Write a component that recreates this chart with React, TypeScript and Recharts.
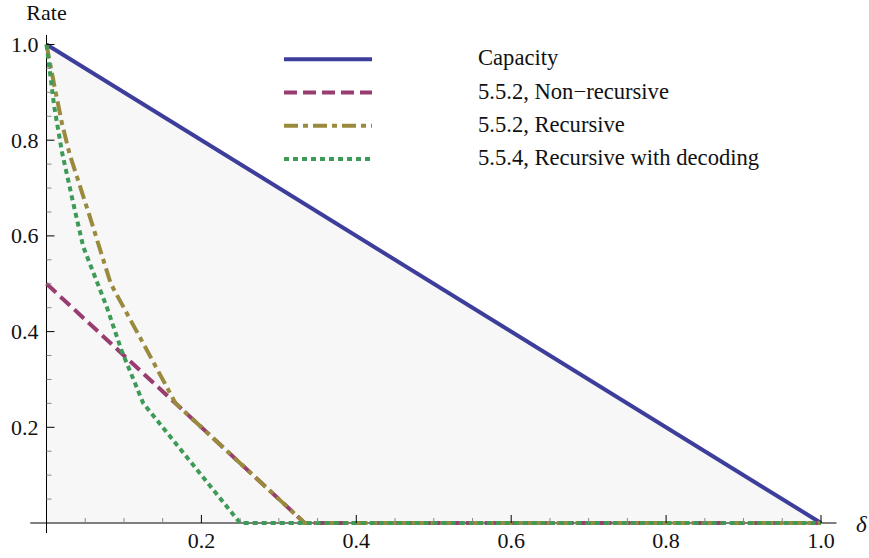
import {
  ComposedChart,
  Area,
  Line,
  XAxis,
  YAxis,
  ReferenceLine,
} from 'recharts';

// δ values and rates
const capacityX = [0, 1];
const capacityY = [1, 0];

const nonRecX = [0, 0.3333, 1];
const nonRecY = [0.5, 0, 0];

const recX = [0, 0.01, 0.02, 0.03, 0.055, 0.083, 0.125, 0.1667, 0.3333, 1];
const recY = [1, 0.915, 0.835, 0.77, 0.645, 0.5, 0.375, 0.25, 0, 0];

const decX = [0, 0.01, 0.02, 0.035, 0.0475, 0.0777, 0.097, 0.125, 0.25, 1];
const decY = [1, 0.87, 0.775, 0.665, 0.577, 0.452, 0.36, 0.25, 0, 0];

const xTicks = [0.05, 0.1, 0.15, 0.2, 0.25, 0.3, 0.35, 0.4, 0.45, 0.5, 0.55, 0.6, 0.65, 0.7, 0.75, 0.8, 0.85, 0.9, 0.95, 1];
const yTicks = [0.05, 0.1, 0.15, 0.2, 0.25, 0.3, 0.35, 0.4, 0.45, 0.5, 0.55, 0.6, 0.65, 0.7, 0.75, 0.8, 0.85, 0.9, 0.95, 1];
const majorTicks = [0.2, 0.4, 0.6, 0.8, 1];
const tickLabels = ['0.2', '0.4', '0.6', '0.8', '1.0'];

const seriesNames = ['Capacity', '5.5.2, Non\u2212recursive', '5.5.2, Recursive', '5.5.4, Recursive with decoding'];

const toPoints = (xs: number[], ys: number[]) => xs.map((x, i) => ({ x, y: ys[i] }));

const FONT = '"Liberation Serif", "Times New Roman", serif';
const COLORS = ['#3d3d9b', '#993d70', '#9a8a3d', '#3d9a57'];
const DASHES = [undefined, '13 6', '14 5 5 5', '5 4'];

function labelFor(v: number) {
  const i = majorTicks.findIndex((m) => Math.abs(m - v) < 1e-6);
  return i >= 0 ? tickLabels[i] : null;
}

function XTick({ x, y, payload }: any) {
  const label = labelFor(payload.value);
  return (
    <g>
      <line x1={x} x2={x} y1={y} y2={y - (label ? 8 : 5)} stroke={label ? '#000' : '#888'} strokeWidth={1} />
      {label && (
        <text x={x} y={y + 25} textAnchor="middle" fontFamily={FONT} fontSize={22} fill="#111">
          {label}
        </text>
      )}
    </g>
  );
}

function YTick({ x, y, payload }: any) {
  const label = labelFor(payload.value);
  return (
    <g>
      <line x1={x} x2={x + (label ? 8 : 5)} y1={y} y2={y} stroke={label ? '#000' : '#888'} strokeWidth={1} />
      {label && (
        <text x={x - 8} y={y + 7.5} textAnchor="end" fontFamily={FONT} fontSize={22} fill="#111">
          {label}
        </text>
      )}
    </g>
  );
}

export default function App() {
  return (
    <div style={{ position: 'absolute', left: 0, top: 0, width: 869, height: 558, background: '#fff' }}>
      <ComposedChart width={869} height={558} margin={{ top: 44.5, right: 48, bottom: 0, left: 0 }}>
        <XAxis
          type="number"
          dataKey="x"
          domain={[0, 1]}
          ticks={xTicks}
          height={35}
          axisLine={false}
          tickLine={false}
          tickSize={0}
          tickMargin={0}
          tick={<XTick />}
          interval={0}
          allowDuplicatedCategory={false}
        />
        <YAxis
          type="number"
          domain={[0, 1]}
          ticks={yTicks}
          width={46.5}
          axisLine={false}
          tickLine={false}
          tickSize={0}
          tickMargin={0}
          tick={<YTick />}
          interval={0}
        />
        <Area
          data={toPoints(capacityX, capacityY)}
          dataKey="y"
          type="linear"
          stroke="none"
          fill="#f7f7f7"
          fillOpacity={1}
          isAnimationActive={false}
        />
        <ReferenceLine
          segment={[{ x: -0.021, y: 0 }, { x: 1.02, y: 0 }]}
          stroke="#000"
          strokeWidth={1}
          ifOverflow="visible"
        />
        <ReferenceLine
          segment={[{ x: 0, y: -0.021 }, { x: 0, y: 1.02 }]}
          stroke="#000"
          strokeWidth={1}
          ifOverflow="visible"
        />
        <Line
          data={toPoints(capacityX, capacityY)}
          dataKey="y"
          type="linear"
          stroke={COLORS[0]}
          strokeWidth={4}
          dot={false}
          isAnimationActive={false}
        />
        <Line
          data={toPoints(nonRecX, nonRecY)}
          dataKey="y"
          type="linear"
          stroke={COLORS[1]}
          strokeWidth={4}
          strokeDasharray={DASHES[1]}
          dot={false}
          isAnimationActive={false}
        />
        <Line
          data={toPoints(recX, recY)}
          dataKey="y"
          type="linear"
          stroke={COLORS[2]}
          strokeWidth={4}
          strokeDasharray={DASHES[2]}
          dot={false}
          isAnimationActive={false}
        />
        <Line
          data={toPoints(decX, decY)}
          dataKey="y"
          type="linear"
          stroke={COLORS[3]}
          strokeWidth={4}
          strokeDasharray={DASHES[3]}
          dot={false}
          isAnimationActive={false}
        />
      </ComposedChart>
      {/* legend and axis names, overlaid like Mathematica's epilog */}
      <svg width={869} height={558} style={{ position: 'absolute', left: 0, top: 0, pointerEvents: 'none' }}>
        <text x={46.5} y={19.5} textAnchor="middle" fontFamily={FONT} fontSize={22} fill="#111">
          Rate
        </text>
        <text x={856} y={532} fontFamily={FONT} fontSize={23} fontStyle="italic" fill="#111">
          δ
        </text>
        {seriesNames.map((name, i) => {
          const y = 59.3 + i * 33.2;
          return (
            <g key={name}>
              <line
                x1={284}
                x2={372}
                y1={y}
                y2={y}
                stroke={COLORS[i]}
                strokeWidth={4}
                strokeDasharray={DASHES[i]}
              />
              <text x={478} y={y + 6} fontFamily={FONT} fontSize={22.6} fill="#111">
                {name}
              </text>
            </g>
          );
        })}
      </svg>
    </div>
  );
}
